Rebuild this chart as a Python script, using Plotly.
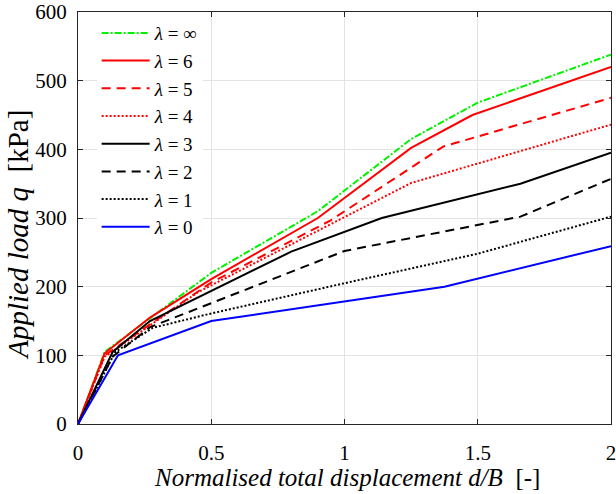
import plotly.graph_objects as go

# data: normalised displacement d/B and applied load q [kPa]
x_inf = [0, 0.1, 0.5, 0.9, 1.25, 1.5, 2.0]
q_inf = [0, 105, 220, 310, 415, 468, 538]
x_6 = [0, 0.1, 0.27, 0.5, 0.9, 1.25, 1.48, 2.0]
q_6 = [0, 103, 155, 211, 300, 402, 450, 520]
x_5 = [0, 0.1, 0.5, 0.95, 1.37, 2.0]
q_5 = [0, 100, 206, 297, 404, 475]
x_4 = [0, 0.1, 0.45, 1.25, 2.0]
q_4 = [0, 98, 192, 351, 436]
x_3 = [0, 0.13, 0.27, 0.8, 1.14, 1.66, 2.0]
q_3 = [0, 105, 150, 251, 300, 350, 395]
x_2 = [0, 0.13, 0.27, 0.5, 1.0, 1.66, 2.0]
q_2 = [0, 98, 141, 176, 252, 302, 357]
x_1 = [0, 0.14, 0.28, 0.5, 1.0, 1.5, 2.0]
q_1 = [0, 105, 140, 161, 205, 248, 302]
x_0 = [0, 0.15, 0.5, 1.375, 2.0]
q_0 = [0, 100, 150, 200, 259]

labels = ["∞", "6", "5", "4", "3", "2", "1", "0"]
x_ticks = [0, 0.5, 1, 1.5, 2]
x_ticktext = ["0", "0.5", "1", "1.5", "2"]
y_ticks = [0, 100, 200, 300, 400, 500, 600]

series = [
    (x_inf, q_inf, "#00f000", "7px,2px,2px,2px"),
    (x_6, q_6, "#ff0000", "solid"),
    (x_5, q_5, "#ff0000", "9px,6px"),
    (x_4, q_4, "#ff0000", "2px,2px"),
    (x_3, q_3, "#000000", "solid"),
    (x_2, q_2, "#000000", "9px,6px"),
    (x_1, q_1, "#000000", "2px,2px"),
    (x_0, q_0, "#0000ff", "solid"),
]

font = "Liberation Serif"
fig = go.Figure()
for (xs, qs, col, dash), lab in zip(series, labels):
    fig.add_trace(go.Scatter(
        x=xs, y=qs, mode="lines",
        line=dict(color=col, width=2, dash=dash),
        name="<i>λ</i> = " + lab,
    ))

axis_common = dict(
    showgrid=True, gridcolor="#e3e3e3", gridwidth=1,
    showline=True, linecolor="#262626", linewidth=1.2, mirror="ticks",
    ticks="inside", ticklen=5, tickcolor="#262626",
    zeroline=False, automargin=False, ticklabeloverflow="allow",
    tickfont=dict(family=font, size=21, color="#000"),
)

fig.update_layout(
    width=616, height=494,
    margin=dict(l=78, r=5, t=12, b=70),
    paper_bgcolor="white", plot_bgcolor="white",
    font=dict(family=font, size=20, color="#000"),
    xaxis=dict(range=[0, 2], tickvals=x_ticks, ticktext=x_ticktext,
               ticklabelstandoff=10, **axis_common),
    yaxis=dict(range=[0, 600], tickvals=y_ticks,
               ticklabelstandoff=6, **axis_common),
    legend=dict(x=0.035, y=0.995, xanchor="left", yanchor="top",
                bgcolor="white", borderwidth=0,
                font=dict(family=font, size=19),
                itemwidth=48, tracegroupgap=0),
    showlegend=True,
    annotations=[
        dict(text="<i>Normalised total displacement d/B</i>  [-]",
             xref="paper", yref="paper", x=0.505, y=-0.131,
             xanchor="center", yanchor="middle", showarrow=False,
             font=dict(family=font, size=25, color="#000")),
        dict(text="<i>Applied load q</i>  [kPa]",
             xref="paper", yref="paper", x=-0.112, y=0.46,
             xanchor="center", yanchor="middle", showarrow=False,
             textangle=-90,
             font=dict(family=font, size=29, color="#000")),
    ],
)

fig.write_html("out.html", config={"displayModeBar": False},
               post_script="document.body.style.margin='0';document.body.style.overflow='hidden';")
